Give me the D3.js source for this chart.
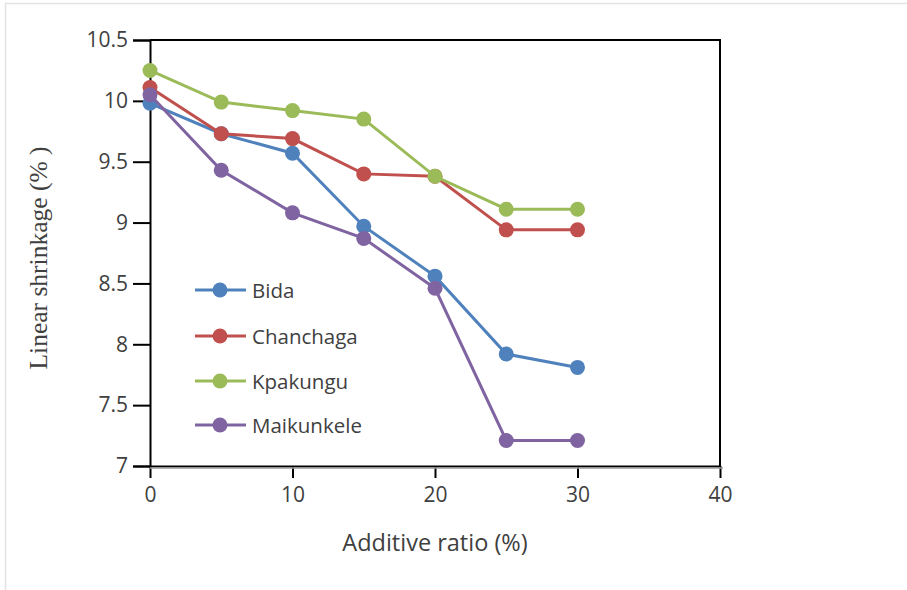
<!DOCTYPE html>
<html><head><meta charset="utf-8">
<script src="https://cdn.jsdelivr.net/npm/d3@7"></script>
<style>body{margin:0;background:#fff}svg{display:block}</style>
</head><body>
<svg id="c" width="907" height="590"></svg>
<script>
const xValues = [0, 5, 10, 15, 20, 25, 30];
const seriesNames = ["Bida", "Chanchaga", "Kpakungu", "Maikunkele"];
const bida = [9.98, 9.73, 9.57, 8.97, 8.56, 7.92, 7.81];
const chanchaga = [10.11, 9.73, 9.69, 9.40, 9.38, 8.94, 8.94];
const kpakungu = [10.25, 9.99, 9.92, 9.85, 9.38, 9.11, 9.11];
const maikunkele = [10.05, 9.43, 9.08, 8.87, 8.46, 7.21, 7.21];
const xTicks = [0, 10, 20, 30, 40];
const yTicks = [7, 7.5, 8, 8.5, 9, 9.5, 10, 10.5];
const colors = ["#4F81BD", "#C0504D", "#9BBB59", "#8064A2"];

const series = [bida, chanchaga, kpakungu, maikunkele];
const svg = d3.select("#c");
const L = 150, R = 720, T = 40, B = 466;
const x = d3.scaleLinear().domain([0, 40]).range([L, R]);
const y = d3.scaleLinear().domain([7, 10.5]).range([B, T]);
const FONT = "Open Sans, sans-serif";

// outer light frame
svg.append("rect").attr("x", 5.5).attr("y", 3.5).attr("width", 920).attr("height", 620)
  .attr("fill", "none").attr("stroke", "#e3e3e3").attr("stroke-width", 1.5);

// frame top/right
svg.append("path").attr("d", `M${L},${T}H${R}V${B}`).attr("fill", "none").attr("stroke", "#000").attr("stroke-width", 2);

// y axis
const ya = svg.append("g").attr("transform", `translate(${L},0)`)
  .call(d3.axisLeft(y).tickValues(yTicks).tickSize(17).tickPadding(5).tickFormat(d => String(d)));
ya.select(".domain").attr("stroke", "#000").attr("stroke-width", 2);
ya.selectAll(".tick line").attr("stroke", "#000").attr("stroke-width", 2);
ya.selectAll(".tick text").attr("fill", "#404040").attr("font-family", FONT).attr("font-size", 21);

// x axis
const xa = svg.append("g").attr("transform", `translate(0,${B})`)
  .call(d3.axisBottom(x).tickValues(xTicks).tickSize(12).tickPadding(9).tickSizeOuter(0));
xa.select(".domain").attr("stroke", "#000").attr("stroke-width", 2);
xa.selectAll(".tick line").attr("stroke", "#000").attr("stroke-width", 2);
xa.selectAll(".tick text").attr("fill", "#404040").attr("font-family", FONT).attr("font-size", 21);
svg.append("line").attr("x1", L).attr("x2", R + 3).attr("y1", B + 2).attr("y2", B + 2).attr("stroke", "#999").attr("stroke-width", 1.5);

// series
const line = d3.line().x((d, i) => x(xValues[i])).y(d => y(d));
series.forEach((s, k) => {
  const g = svg.append("g");
  g.append("path").attr("d", line(s)).attr("fill", "none").attr("stroke", colors[k]).attr("stroke-width", 3);
  g.selectAll("circle").data(s).join("circle")
    .attr("cx", (d, i) => x(xValues[i])).attr("cy", d => y(d)).attr("r", 7.5).attr("fill", colors[k]);
});

// legend
const legY = [290, 336, 381, 425];
seriesNames.forEach((n, k) => {
  const g = svg.append("g").attr("transform", `translate(0,${legY[k]})`);
  g.append("line").attr("x1", 195).attr("x2", 246).attr("y1", 0).attr("y2", 0).attr("stroke", colors[k]).attr("stroke-width", 3);
  g.append("circle").attr("cx", 220).attr("cy", 0).attr("r", 7.5).attr("fill", colors[k]);
  g.append("text").attr("x", 252).attr("y", 8).text(n).attr("fill", "#404040")
    .attr("font-family", FONT).attr("font-size", 20.5);
});

// axis titles
svg.append("text").attr("x", 435).attr("y", 551).attr("text-anchor", "middle").text("Additive ratio (%)")
  .attr("fill", "#404040").attr("font-family", FONT).attr("font-size", 23.5);
svg.append("text").attr("transform", "translate(47,258) rotate(-90)").attr("text-anchor", "middle")
  .text("Linear shrinkage (% )").attr("fill", "#404040").attr("font-family", "Liberation Serif, serif").attr("font-size", 25.5);
</script>
</body></html>
